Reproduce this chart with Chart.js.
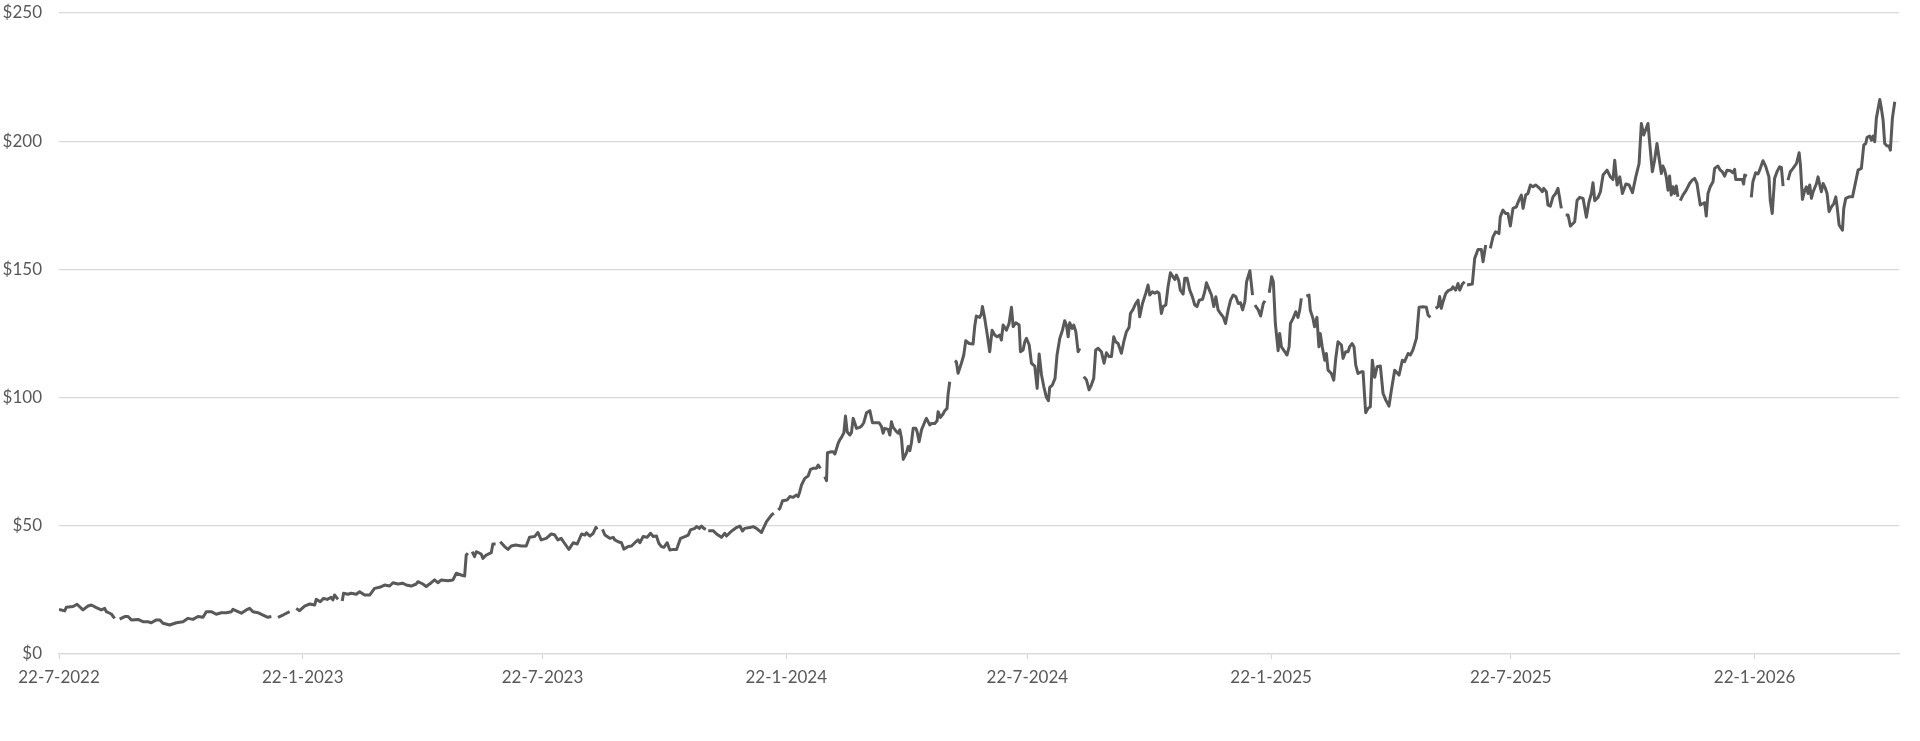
<!DOCTYPE html>
<html lang="nl">
<head>
    <meta charset="UTF-8">
    <meta name="viewport" content="width=device-width, initial-scale=1.0">
    <title>Koersverloop</title>
    <style>
        html, body { margin: 0; padding: 0; background: #ffffff; }
        #wrap { width: 1920px; height: 741px; }
    </style>
</head>
<body>
    <div id="wrap">
        <canvas id="chart"></canvas>
    </div>

    <script src="https://cdn.jsdelivr.net/npm/chart.js@4.4.0/dist/chart.umd.min.js"></script>

    <script>
        // start of the series and end of the x axis
        const startDate = '2022-07-22';
        const axisEndDate = '2026-05-11';

        // x axis ticks
        const tickDates = ['2022-07-22', '2023-01-22', '2023-07-22', '2024-01-22', '2024-07-22', '2025-01-22', '2025-07-22', '2026-01-22'];
        const tickLabels = ['22-7-2022', '22-1-2023', '22-7-2023', '22-1-2024', '22-7-2024', '22-1-2025', '22-7-2025', '22-1-2026'];

        // y axis ticks (dollars)
        const yTicks = [0, 50, 100, 150, 200, 250];

        // days since startDate
        const days = [
            0, 4.3, 5.5, 10.6, 13.6, 18.1, 21.9, 24.4, 28.2, 31.9,
            34.5, 35.7, 39.5, 42, 44, 45.8, 49.6, 52.1, 54.6, 59.6,
            63.4, 67.2, 69.7, 73.5, 76, 78.5, 83.5, 88.6, 93.6, 97.4,
            101.1, 104.9, 108.7, 111.2, 115, 118.7, 122.5, 126.3, 130.1, 131.3,
            135.1, 137.6, 141.4, 143.9, 146.4, 150.2, 154, 157.7, 160.3, 163,
            165.3, 169.1, 174.1, 177, 179.1, 181.6, 185.4, 189.2, 193, 194.2,
            197.2, 199.7, 202.5, 205.5, 206.8, 208, 210.6, 212, 213.8, 214.8,
            218.1, 220.6, 224.4, 226.9, 230.7, 234.5, 238.2, 242, 245.8, 249.6,
            252.1, 255.8, 259.6, 262.1, 265.9, 269.7, 270.9, 274.7, 277.2, 281,
            283.5, 286, 288.6, 293.6, 297.4, 299.9, 303.6, 306.2, 307.4, 308.7,
            310, 311.9, 313.7, 315, 318.7, 320, 322.5, 326.3, 327.5, 329.6,
            331, 333.1, 336.4, 338.9, 341.4, 344.7, 349, 352.7, 355.2, 359,
            361.5, 364, 367.8, 371.6, 374.1, 376.6, 379.1, 381.6, 384.9,
            388.2, 391.2, 394.5, 397, 398.2, 400.8, 403.3, 405.3, 406.3, 408,
            410.3, 412.1, 415.8, 418.4, 419.6, 422.1, 424.6, 426.4, 429.7, 432.2,
            434.7, 437.2, 438.5, 441, 444, 446.5, 448.6, 451, 452.8, 454.8,
            456.6, 459.1, 461.1, 463.6, 466.2, 469.2, 472.5, 475, 476.7, 480,
            481.3, 483.3, 485, 486.8, 488.3, 489, 490.1, 493.8, 496.4, 500.1,
            502.6, 503.9, 506.4, 508.9, 511.4, 514, 516, 517.6, 521.5, 524,
            526.5, 530.3, 534.1, 537.8, 539.6, 541, 542.9, 544.2, 546.2, 549.7,
            551.7, 554.2, 556.7, 558, 559.2, 560.5, 563, 565.5, 567.3, 569.3,
            571.8, 573.1, 574.8, 576, 578.1, 579.4, 580.1, 583.1, 584.4, 585.7,
            588.2, 589.4, 590.7, 592.5, 593.7, 595, 597, 598.2, 599.5, 600.8,
            602, 604.5, 605.8, 607.5, 609.6, 612.1, 614.1, 615.8, 619.1, 620.9,
            622.1, 623.4, 625.9, 627.2, 628.4, 629.7, 630.9, 632.2, 633.5, 634.7,
            636, 637.3, 639.8, 641, 642.3, 643.5, 644.8, 646.8, 647.8, 649.3,
            651.1, 653.6, 654.8, 657.4, 658.6, 661.1, 662.9, 663.6, 665.4, 667.4,
            668.7, 670.4,
            671.1, 672.4, 674, 676.2, 677.4, 678.7, 681.2, 683, 684.5, 687,
            690, 691.3, 692.5, 695, 696.3, 697.1, 698.8, 700.6, 702.6, 704.4,
            706.4, 708.2, 710.2, 711.4, 712.7, 715.2, 717.2, 719, 720.3, 722.3,
            724.8, 725.8, 727.8, 729.1, 730.3, 732.4, 734.1, 736.6, 738.4, 739.9,
            741.7, 743.4, 745.4, 746.9, 747.9, 749.9, 751.9, 753.4, 755.5, 757.5,
            759.2, 760.5, 761.8, 763, 764.8, 766, 767.6, 769.3, 770.6, 772,
            773.6, 775.6, 777.6, 779.3, 781.1, 782.6, 784.4, 786.9, 788.9, 790.7,
            792.7, 794.5, 796.2, 797.7, 799.5, 802, 803.8, 805.8, 807.8, 808.8,
            810.8, 812.8, 814.6, 815.8, 817.9, 820.4, 822.1, 823.4, 825.4, 827.2,
            828.9, 830.4, 832.2, 833.5, 835.5, 837.2, 839, 841, 842.3, 843.5,
            845.3, 846.5, 848.6, 849.8, 851.6, 853.6, 855.6, 857.4, 859.1, 860.7,
            863.2, 864.9, 866.2, 868.2, 870, 871.7, 873.3, 875, 876.8, 878.8,
            880.6, 882.6, 884.4, 886.4, 888.4, 890.2, 891.9, 893.5, 895.2, 896.5,
            899, 901, 902, 902.8, 905.3, 907.1, 909.1, 910.4, 912, 913.6,
            915.4, 916.7, 918.2,
            920.3, 921.5, 922.8, 925.3, 927, 928.6, 929.6, 931.6, 933.6, 935.3,
            936.6, 937.8, 939.5, 941.6, 943.6, 944.6, 946.6, 947.8, 949.6, 951.1,
            952.1, 953.6, 955.5, 956.7, 958, 960.5, 962.3, 963.8, 965.5, 968.1,
            969.3, 971.3, 973.1, 974.3, 976.1, 977.6, 978.9, 980.6, 983.1, 984.4,
            986.4, 988.2, 989.9, 991.4, 993.2, 995, 997.5, 999.5, 1001.5, 1004,
            1005.8, 1008.3, 1011.6, 1014.1, 1015.8, 1018.4, 1020.1, 1022.1, 1024.7, 1026.7,
            1029.7, 1032.2, 1033.5, 1035.2, 1037, 1039.2, 1041, 1042.3, 1043.5, 1044.8,
            1046.8, 1048.6, 1051.1, 1052.3, 1054.3, 1056.1, 1057.4, 1059.4, 1061.1, 1062,
            1062.9, 1066.9, 1068.7, 1071.2, 1073.7, 1075, 1077, 1079, 1080.5, 1082.5,
            1084.5, 1087, 1088, 1090, 1092.1, 1093.8, 1095.6, 1097.6, 1100.1, 1102.1,
            1103.9, 1105.2, 1107.2, 1108.9, 1110.7, 1112.7, 1114.7, 1116.5, 1117.7, 1119.8,
            1120.8, 1122.8, 1124, 1125.8, 1127.8, 1129.8, 1131.6, 1134.1, 1136, 1137.4,
            1139.2, 1140.9, 1142.9, 1144.2, 1146, 1148, 1150.5, 1153, 1155, 1156.8,
            1158, 1159.3, 1161.8, 1163.6, 1165.6, 1168.6, 1171.1, 1173.1, 1174.4, 1176.2,
            1178.2, 1180.2, 1182.8, 1185.3, 1187.8, 1190.3, 1192.8, 1194.5, 1196.3, 1199.5,
            1201.3, 1202.8, 1204.5, 1206.3, 1207.8, 1209.6, 1210.8, 1212.1, 1213.3, 1214.6,
            1215.8, 1217.1, 1218.4, 1219.6, 1220.9, 1222.1, 1223, 1223.9, 1225.9, 1228.4,
            1230.9, 1232.9, 1234.7, 1236.5, 1238, 1239, 1241, 1242.3, 1243.5, 1244.8,
            1246.5, 1248.6, 1249.8, 1252.3, 1254.1, 1255.6, 1257.4, 1259.1, 1261.6, 1263.6,
            1264.9, 1265.7, 1268.7, 1270.7, 1271.7, 1272.5, 1274.2, 1276, 1277.5, 1278.7,
            1280.8, 1282.5, 1283.8, 1286.3, 1288.3, 1290.8, 1291.8, 1293.3, 1295.1, 1296.9,
            1298.9,
            1300.2, 1301.5, 1303, 1305.2, 1307, 1309, 1311.6, 1313.6, 1314.6, 1316.1,
            1317.9, 1319.1, 1320.4, 1321.6, 1322.9, 1324.2, 1326.7, 1327.9, 1329.2, 1330.4,
            1331.7, 1333, 1334.7, 1336.2, 1338, 1339.8, 1341.3, 1342.3, 1343.8, 1346.3,
            1347.3, 1348.8, 1351.3, 1353.9, 1355.6, 1358.1, 1360.6, 1362.4, 1363.9, 1364.9,
            1366.9, 1368.2, 1369.4, 1370.7, 1371.9, 1374.5, 1375.7, 1377, 1378.2, 1380,
            1381.5, 1382.5, 1384, 1385.8
        ];

        // closing price in dollars, null = no quote (gap in the line)
        const prices = [
            17.4, 16.8, 18.2, 18.5, 19.4, 17.2, 18.7, 19.1, 18.1, 17.2,
            17.8, 16.5, 15.6, 13.9, null, 13.6, 14.6, 14.6, 13.3, 13.5,
            12.6, 12.6, 12.2, 13.3, 13.3, 12.0, 11.3, 12.2, 12.6, 13.9,
            13.5, 14.6, 14.3, 16.5, 16.5, 15.5, 16.1, 16.1, 16.5, 17.4,
            16.5, 15.9, 17.2, 17.8, 16.5, 16.1, 15.2, 14.3, 14.6, null,
            14.3, 15.2, 16.5, null, 17.8, 16.9, 18.7, 19.5, 19.1, 21.3,
            20.4, 21.7, 21.3, 22.1, 21.1, 23.0, 21.3, null, 20.7, 23.7,
            23.3, 23.7, 23.3, 24.3, 23.0, 23.0, 25.6, 26.0, 26.9, 26.5,
            27.8, 27.3, 27.6, 26.9, 26.5, 27.3, 28.2, 27.3, 26.3, 27.8,
            28.9, 27.8, 28.9, 28.6, 28.9, 31.5, 30.8, 30.4, 38.6, 39.3,
            null, 39.9, 38.0, 39.9, 39.0, 37.3, 38.6, 39.5, 42.9, 42.9,
            null, 43.8, 41.9, 40.8, 42.1, 42.5, 42.1, 42.1, 45.5, 45.8,
            47.4, 44.5, 45.1, 46.8, 46.5, 44.5, 45.1, 43.2, 40.8,
            43.4, 42.9, 46.8, 46.4, 47.3, 46.0, 47.1, 49.4, 48.6, null,
            48.6, 46.4, 45.1, 45.5, 44.5, 43.8, 43.4, 40.9, 41.9, 42.1,
            43.4, 44.5, 43.4, 45.8, 45.5, 47.1, 45.8, 46.0, 43.2, 41.9,
            41.6, 43.4, 40.6, 40.8, 40.8, 45.1, 45.8, 46.4, 48.4, 49.0,
            49.7, 49.0, 49.9, 49.0, 48.6, null, 48.1, 48.1, 46.8, 45.5,
            47.1, 46.0, 47.3, 48.4, 49.3, 49.9, 48.0, 49.0, 49.3, 49.7,
            49.0, 47.4, 51.6, 54.2, 54.9, null, 56.2, 56.8, 59.8, 60.1,
            61.4, 61.1, 62.0, 61.4, 63.3, 65.9, 68.5, 69.4, 72.0, 72.4,
            72.4, 73.7, 72.4, null, 69.2, 67.6, 78.5, 78.9, 78.9, 78.0,
            82.2, 83.5, 84.5, 86.3, 92.8, 86.7, 85.4, 86.3, 91.9, 90.0,
            88.0, 88.4, 88.9, 90.2, 94.1, 94.9, 90.2, 90.2, 90.2, 88.7,
            86.1, 88.0, 87.6, 85.4, 90.6, 88.4, 87.6, 86.7, 86.1, 87.4,
            84.1, 75.9, 78.5, 80.9, 79.3, 82.4, 88.0, 88.0, 86.7, 82.8,
            87.4, 90.6, 91.9, 89.3, 89.9, 89.9, 91.0, 94.5, 92.3, 93.6,
            94.9, 95.8,
            101.0, 106.2, null, 114.4, 114.0, 109.5, 113.4, 116.6, 122.2, 121.1,
            120.9, 127.9, 131.8, 131.3, 132.6, 135.5, 130.9, 125.0, 117.9, 126.3,
            124.4, 123.7, 124.4, 122.4, 128.3, 126.3, 128.9, 135.2, 127.7, 129.2,
            128.3, 117.9, 118.6, 121.8, 123.1, 120.5, 113.4, 112.3, 103.6, 117.0,
            108.8, 104.3, 100.1, 98.8, 104.0, 104.9, 107.5, 116.6, 123.1, 126.3,
            130.0, 128.3, 123.7, 129.2, 127.0, 128.3, 125.7, 117.9, 119.2, null,
            108.2, 106.9, 103.0, 104.9, 107.5, 118.6, 119.2, 117.9, 113.4, 117.5,
            116.0, 116.0, 123.7, 121.8, 121.1, 117.3, 121.8, 125.7, 127.4, 132.8,
            134.4, 136.7, 138.0, 131.5, 136.7, 140.7, 143.9, 140.0, 141.3, 140.7,
            141.3, 140.7, 132.8, 135.5, 136.1, 143.2, 148.7, 147.1, 146.1, 147.8,
            145.6, 141.9, 140.4, 146.5, 146.5, 141.9, 139.3, 136.1, 135.5, 138.0,
            138.3, 141.3, 144.8, 142.2, 140.0, 135.5, 139.3, 134.2, 132.8, 131.5,
            128.9, 134.2, 138.0, 140.0, 139.3, 136.7, 137.0, 134.2, 137.4, 145.2,
            149.5, 140.0, null, 136.1, 134.2, 131.8, 136.7, 137.8, null, 140.9,
            147.1, 145.2, 129.0,
            118.3, 125.0, 119.8, 117.9, 116.6, 119.8, 128.9, 130.9, 133.5, 131.3,
            134.1, 138.7, null, 139.6, 140.0, 134.1, 130.9, 127.6, 131.3, 119.8,
            125.0, 119.8, 114.6, 117.2, 110.7, 109.4, 106.8, 115.3, 121.8, 120.5,
            115.3, 117.9, 117.9, 119.8, 121.1, 119.8, 112.7, 109.4, 110.1, 110.1,
            94.1, 95.8, 96.4, 114.6, 107.9, 112.0, 112.3, 101.7, 99.1, 96.7,
            102.9, 110.7, 108.8, 114.6, 114.0, 117.2, 116.6, 118.6, 123.1, 135.2,
            135.4, 135.2, 132.2, 131.3, null, 134.8, 135.4, 139.4, 134.8, 137.4,
            140.6, 141.7, 142.2, 143.2, 141.9, 144.5, 141.9, 144.3, 145.2, null,
            143.9, 144.3, 154.3, 157.8, 157.8, 153.0, 159.5, null, 158.2, 162.7,
            164.7, 164.0, 170.5, 173.1, 171.8, 171.8, 166.9, 173.8, 174.4, 177.0,
            179.0, 173.8, 179.0, 179.6, 182.9, 182.2, 182.9, 182.2, 181.6, 180.3,
            181.6, 180.3, 175.1, 174.7, 178.3, 179.6, 181.6, 173.8, null, 171.2,
            171.2, 166.9, 167.9, 168.6, 177.0, 178.1, 177.7, 170.3, 176.4, 179.6,
            183.8, 176.8, 178.1, 180.3, 186.8, 188.7, 186.1, 185.1, 192.6, 182.9,
            186.1, 179.6, 183.3, 182.9, 179.9, 186.1, 191.3, 206.9, 202.4, 206.9,
            196.5, 188.1, 192.6, 199.1, 193.7, 187.4, 190.3, 188.7, 186.1, 180.9,
            186.4, 179.0, 182.2, 179.6, 182.5, 178.3, null, 176.8, 179.0, 180.9,
            183.5, 184.8, 185.5, 183.5, 178.3, 175.1, 175.7, 176.0, 170.8, 179.6,
            182.2, 184.2, 189.4, 190.3, 188.7, 188.1, 186.4, 188.7, 188.5, 187.7,
            189.0, 185.1, 185.1, 185.1, 183.3, 186.8, 186.4, null, 178.1, 184.2,
            187.7, 187.2, 188.7, 192.4, 190.3, 186.1, 177.0, 171.8, 185.5, 188.1,
            190.0,
            189.8, 182.5, null, 184.8, 188.1, 189.4, 191.3, 195.5, 190.7, 177.3,
            180.9, 182.2, 179.6, 182.9, 177.7, 180.3, 183.5, 186.1, 182.9, 180.3,
            183.5, 182.2, 179.6, 172.5, 174.4, 175.7, 178.3, 174.4, 167.3, 165.3,
            173.8, 177.7, 178.3, 178.3, 182.5, 188.7, 189.4, 198.5, 199.1, 201.5,
            202.0, 200.4, 202.0, 199.8, 208.9, 216.3, 212.8, 208.2, 199.1, 198.1,
            198.1, 196.5, 208.9, 215.4
        ];

        if (days.length !== prices.length) {
            console.warn('days/prices length mismatch', days.length, prices.length);
        }

        const dayOf = d => (Date.parse(d) - Date.parse(startDate)) / 86400000;
        const tickDays = tickDates.map(dayOf);
        const endDay = dayOf(axisEndDate);

        const points = days.map((d, i) => ({ x: d, y: prices[i] }));

        const textColor = '#595959';
        const gridColor = '#d9d9d9';
        const labelFont = { family: 'Lato', size: 17 };

        const chart = new Chart(document.getElementById('chart'), {
            type: 'line',
            data: {
                datasets: [{
                    label: 'Koers',
                    data: points,
                    borderColor: '#595959',
                    borderWidth: 3,
                    pointRadius: 0,
                    tension: 0,
                    spanGaps: false,
                    borderJoinStyle: 'round'
                }]
            },
            options: {
                responsive: true,
                maintainAspectRatio: false,
                animation: false,
                layout: { padding: { top: 13, right: 21, bottom: 0, left: 0 } },
                plugins: {
                    legend: { display: false },
                    tooltip: { enabled: false }
                },
                scales: {
                    x: {
                        type: 'linear',
                        min: 0,
                        max: endDay,
                        afterBuildTicks: s => { s.ticks = tickDays.map(v => ({ value: v })); },
                        afterFit: s => { s.height = 87; },
                        grid: {
                            drawOnChartArea: false,
                            drawTicks: true,
                            tickLength: 5,
                            tickColor: gridColor,
                            tickWidth: 1.3
                        },
                        border: { color: gridColor, width: 1.3 },
                        ticks: {
                            autoSkip: false,
                            maxRotation: 0,
                            padding: 8,
                            color: textColor,
                            font: labelFont,
                            callback: (v, i) => tickLabels[i]
                        }
                    },
                    y: {
                        min: 0,
                        max: 250,
                        afterBuildTicks: s => { s.ticks = yTicks.map(v => ({ value: v })); },
                        // fixed axis width; drop the extra top/bottom room the tick padding adds
                        afterFit: s => {
                            s.width = 59;
                            s.paddingTop = 0;
                            s.paddingBottom = 0;
                        },
                        grid: { color: gridColor, lineWidth: 1.3, drawTicks: false },
                        border: { display: false },
                        ticks: {
                            padding: 17,
                            color: textColor,
                            font: labelFont,
                            callback: v => '$' + v
                        }
                    }
                }
            }
        });
    </script>
</body>
</html>
